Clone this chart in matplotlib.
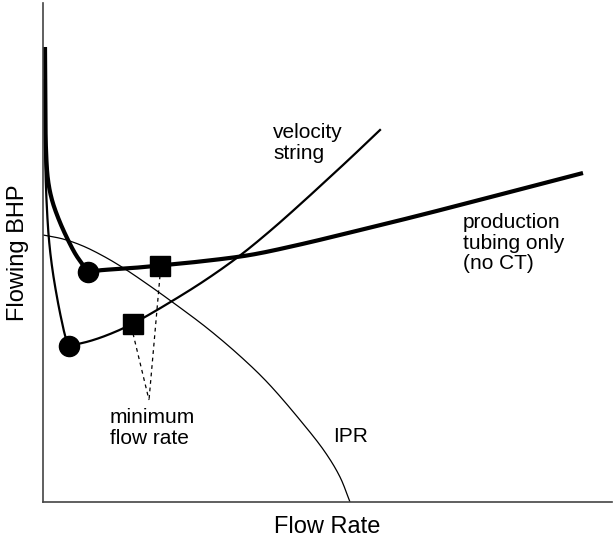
import matplotlib
matplotlib.use("Agg")
import matplotlib.pyplot as plt
import numpy as np

plt.rcParams['font.family'] = ['Liberation Sans', 'DejaVu Sans']

# Production tubing only (no CT) - thick curve: descending branch and rising branch
prod_left_x = [2, 2.3, 3, 5, 9, 16, 25, 33, 40, 45]
prod_left_y = [455, 402, 352, 322, 302, 282, 262, 247, 237, 230]
prod_right_x = [45, 57, 87, 117, 157, 207, 257, 307, 374, 440, 540]
prod_right_y = [230, 231.7, 233.8, 236.5, 240.5, 247, 257.5, 269.5, 286, 303, 329]

# Velocity string - thin curve: descending branch and rising branch
vel_left_x = [1.2, 2, 3.5, 6, 9.5, 14.5, 18.5, 22.5, 26]
vel_left_y = [422, 352, 302, 262, 232, 202, 182, 165, 156]
vel_right_x = [26, 47, 67, 90, 130, 164, 197, 227, 257, 287, 307, 337]
vel_right_y = [156, 161, 168, 178.5, 201.5, 223, 246.5, 271, 297.5, 325, 343.5, 372]

# IPR curve
ipr_x = [0, 20, 40, 62, 82, 107, 130, 164, 197, 224, 257, 282, 297, 307]
ipr_y = [267, 263, 256, 245, 233, 216, 199.5, 174, 146, 120, 82, 50, 25, 0]

# Minimum points (circles) and minimum flow rate (squares)
circ_x = [45, 26]
circ_y = [230, 156]
sq_x = [117, 90]
sq_y = [236.5, 178.5]

# Annotation convergence point
ann_x = 106
ann_y = 102


def smooth(xs, ys, n=24, alpha=0.5):
    """Centripetal Catmull-Rom curve through the given points (for drawing)."""
    P = np.column_stack([xs, ys]).astype(float)
    P = np.vstack([2 * P[0] - P[1], P, 2 * P[-1] - P[-2]])
    out = []
    for i in range(1, len(P) - 2):
        p0, p1, p2, p3 = P[i - 1], P[i], P[i + 1], P[i + 2]
        def tj(ti, a, b):
            return ti + max(np.linalg.norm(b - a), 1e-6) ** alpha
        t0 = 0.0
        t1 = tj(t0, p0, p1)
        t2 = tj(t1, p1, p2)
        t3 = tj(t2, p2, p3)
        t = np.linspace(t1, t2, n)[:, None]
        A1 = (t1 - t) / (t1 - t0) * p0 + (t - t0) / (t1 - t0) * p1
        A2 = (t2 - t) / (t2 - t1) * p1 + (t - t1) / (t2 - t1) * p2
        A3 = (t3 - t) / (t3 - t2) * p2 + (t - t2) / (t3 - t2) * p3
        B1 = (t2 - t) / (t2 - t0) * A1 + (t - t0) / (t2 - t0) * A2
        B2 = (t3 - t) / (t3 - t1) * A2 + (t - t1) / (t3 - t1) * A3
        C = (t2 - t) / (t2 - t1) * B1 + (t - t1) / (t2 - t1) * B2
        out.append(C if i == 1 else C[1:])
    C = np.vstack(out)
    return C[:, 0], C[:, 1]


fig = plt.figure(figsize=(6.13, 5.39), dpi=100)
ax = fig.add_axes([43/613, 37/539, 569/613, 499/539])
ax.set_xlim(0, 569)
ax.set_ylim(0, 499)

ax.plot(*smooth(ipr_x, ipr_y), color='black', lw=0.9, solid_capstyle='butt')
for xs, ys in [(vel_left_x, vel_left_y), (vel_right_x, vel_right_y)]:
    ax.plot(*smooth(xs, ys), color='black', lw=1.6, solid_joinstyle='round')
for xs, ys in [(prod_left_x, prod_left_y), (prod_right_x, prod_right_y)]:
    ax.plot(*smooth(xs, ys), color='black', lw=3.0, solid_joinstyle='round', solid_capstyle='butt')

for sx, sy in zip(sq_x, sq_y):
    ax.plot([sx, ann_x], [sy - 10, ann_y], color='black', lw=0.9, ls=(0, (3, 3)))

ax.plot(circ_x, circ_y, 'o', color='black', ms=14.5, zorder=5)
ax.plot(sq_x, sq_y, 's', color='black', ms=14.5, zorder=5)

fs = 15
ax.text(230, 379, 'velocity\nstring', fontsize=fs, va='top', ha='left', linespacing=1.1)
ax.text(420, 289, 'production\ntubing only\n(no CT)', fontsize=fs, va='top', ha='left', linespacing=1.1)
ax.text(67, 94, 'minimum\nflow rate', fontsize=fs, va='top', ha='left', linespacing=1.1)
ax.text(290, 65, 'IPR', fontsize=fs, va='center', ha='left')

ax.set_xlabel('Flow Rate', fontsize=17, labelpad=10)
ax.set_ylabel('Flowing BHP', fontsize=17, labelpad=10)

ax.set_xticks([])
ax.set_yticks([])
for s in ['top', 'right']:
    ax.spines[s].set_visible(False)
for s in ['left', 'bottom']:
    ax.spines[s].set_color('#444444')
    ax.spines[s].set_linewidth(1.2)

fig.savefig('out.png', dpi=100)
